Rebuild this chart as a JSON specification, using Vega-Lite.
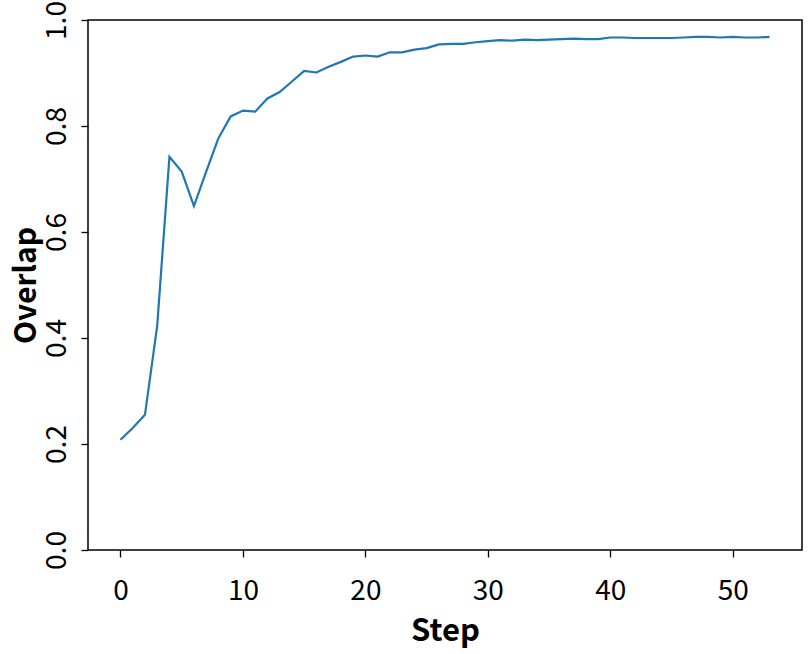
{
  "$schema": "https://vega.github.io/schema/vega-lite/v6.json",
  "autosize": "none",
  "width": 714,
  "height": 530,
  "padding": {"left": 88, "top": 20, "right": 8, "bottom": 104},
  "background": "white",
  "config": {
    "view": {"stroke": "black", "strokeWidth": 1.5},
    "axis": {"grid": false, "domain": false, "tickColor": "black", "tickSize": 7, "tickWidth": 1.3, "labelColor": "black", "titleColor": "black", "labelFont": "Noto Sans CJK SC", "titleFont": "Noto Sans CJK SC", "labelFontSize": 28, "titleFontSize": 31, "titleFontWeight": "bold", "labelFontWeight": "normal"}
  },
  "data": {"values": [
    {"step": 0, "overlap": 0.208}, {"step": 1, "overlap": 0.23}, {"step": 2, "overlap": 0.255}, {"step": 3, "overlap": 0.423},
    {"step": 4, "overlap": 0.742}, {"step": 5, "overlap": 0.714}, {"step": 6, "overlap": 0.649}, {"step": 7, "overlap": 0.714},
    {"step": 8, "overlap": 0.777}, {"step": 9, "overlap": 0.818}, {"step": 10, "overlap": 0.829}, {"step": 11, "overlap": 0.827},
    {"step": 12, "overlap": 0.852}, {"step": 13, "overlap": 0.864}, {"step": 14, "overlap": 0.884}, {"step": 15, "overlap": 0.904},
    {"step": 16, "overlap": 0.901}, {"step": 17, "overlap": 0.912}, {"step": 18, "overlap": 0.921}, {"step": 19, "overlap": 0.931},
    {"step": 20, "overlap": 0.933}, {"step": 21, "overlap": 0.931}, {"step": 22, "overlap": 0.939}, {"step": 23, "overlap": 0.939},
    {"step": 24, "overlap": 0.944}, {"step": 25, "overlap": 0.947}, {"step": 26, "overlap": 0.954}, {"step": 27, "overlap": 0.955},
    {"step": 28, "overlap": 0.955}, {"step": 29, "overlap": 0.958}, {"step": 30, "overlap": 0.96}, {"step": 31, "overlap": 0.962},
    {"step": 32, "overlap": 0.961}, {"step": 33, "overlap": 0.963}, {"step": 34, "overlap": 0.962}, {"step": 35, "overlap": 0.963},
    {"step": 36, "overlap": 0.964}, {"step": 37, "overlap": 0.965}, {"step": 38, "overlap": 0.964}, {"step": 39, "overlap": 0.964},
    {"step": 40, "overlap": 0.967}, {"step": 41, "overlap": 0.967}, {"step": 42, "overlap": 0.966}, {"step": 43, "overlap": 0.966},
    {"step": 44, "overlap": 0.966}, {"step": 45, "overlap": 0.966}, {"step": 46, "overlap": 0.967}, {"step": 47, "overlap": 0.968},
    {"step": 48, "overlap": 0.968}, {"step": 49, "overlap": 0.967}, {"step": 50, "overlap": 0.968}, {"step": 51, "overlap": 0.967},
    {"step": 52, "overlap": 0.967}, {"step": 53, "overlap": 0.968}
  ]},
  "mark": {"type": "line", "color": "#1f77b4", "strokeWidth": 2.2},
  "encoding": {
    "x": {"field": "step", "type": "quantitative", "title": "Step",
      "scale": {"domain": [-2.65, 55.65], "nice": false, "zero": false},
      "axis": {"values": [0, 10, 20, 30, 40, 50], "labelPadding": 20, "titlePadding": 11}},
    "y": {"field": "overlap", "type": "quantitative", "title": "Overlap",
      "scale": {"domain": [0, 1], "nice": false},
      "axis": {"values": [0, 0.2, 0.4, 0.6, 0.8, 1.0], "format": ".1f", "labelAngle": -90, "labelAlign": "center", "labelBaseline": "bottom", "labelPadding": 10, "titlePadding": 2, "titleFontSize": 30}}
  }
}
